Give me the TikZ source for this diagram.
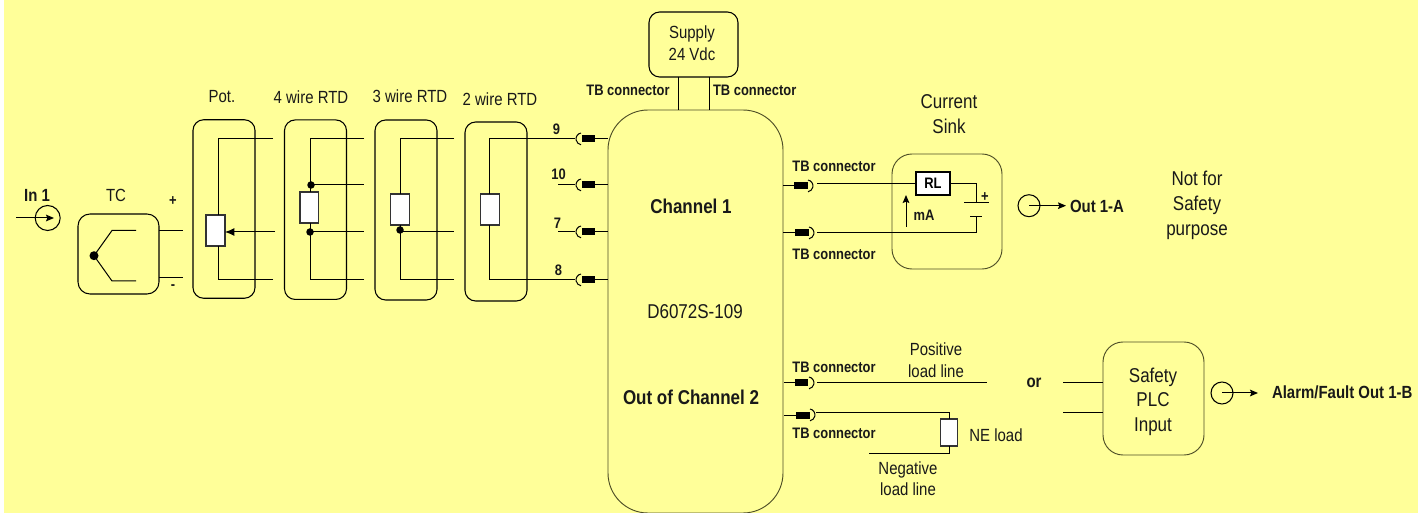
\documentclass[tikz,border=0pt]{standalone}
\usepackage{fontspec}
\setmainfont[FakeStretch=0.85]{Liberation Sans}
\usetikzlibrary{arrows.meta}
\definecolor{bgy}{HTML}{FFFF99}
\definecolor{olive}{HTML}{4D4D26}
\newcommand{\fA}{\fontsize{13.2pt}{13pt}\selectfont}
\newcommand{\fB}{\fontsize{15pt}{15pt}\selectfont}
\newcommand{\fC}{\fontsize{11.4pt}{12pt}\selectfont}
\tikzset{
  rbox/.style={draw=black,line width=0.8pt,rounded corners=#1,fill=none,inner sep=0pt,outer sep=0pt},
  thinbox/.style={draw=olive,line width=0.7pt,rounded corners=#1,fill=none,inner sep=0pt,outer sep=0pt},
  res/.style={draw=black!80,line width=1pt,fill=white,inner sep=0pt,outer sep=0pt},
  pin/.style={fill=black,draw=none,inner sep=0pt,outer sep=0pt,minimum width=13.5*0.75pt,minimum height=7*0.75pt},
  ring/.style={circle,draw=black,line width=0.8pt,fill=none,inner sep=0pt,outer sep=0pt,minimum size=#1*0.75pt},
  dotn/.style={circle,fill=black,inner sep=0pt,outer sep=0pt,minimum size=#1*0.75pt},
  wire/.style={draw=black,line width=0.75pt},
  arcw/.style={draw=black,line width=0.75pt},
  sig/.style={wire,-{Stealth[length=6pt,width=5pt,inset=1pt]}},
  lab/.style={inner sep=0pt,outer sep=0pt,align=center,font=\fA,text=black!90},
  big/.style={inner sep=0pt,outer sep=0pt,align=center,font=\fB,text=black!90},
  tb/.style={inner sep=0pt,outer sep=0pt,align=center,font=\fC\bfseries,text=black!90},
  bold/.style={inner sep=0pt,outer sep=0pt,align=center,font=\fA\bfseries,text=black!90},
  boldbig/.style={inner sep=0pt,outer sep=0pt,align=center,font=\fB\bfseries,text=black!90},
}
\begin{document}
\begin{tikzpicture}[x=0.75pt,y=-0.75pt]
\useasboundingbox (0,0) rectangle (1418,513);
\fill[white] (0,0) rectangle (1418,513);
\fill[bgy] (4,0) rectangle (1418,513);
% ---- boxes
\node[rbox=9pt,minimum width=81*0.75pt,minimum height=80*0.75pt] (tc) at (118.5,254) {};
\node[rbox=8pt,minimum width=62*0.75pt,minimum height=178.5*0.75pt] (pot) at (224,209) {};
\node[rbox=8pt,minimum width=62*0.75pt,minimum height=179.5*0.75pt] (w4) at (315.5,209.7) {};
\node[rbox=8pt,minimum width=62*0.75pt,minimum height=180*0.75pt] (w3) at (406,210) {};
\node[rbox=8pt,minimum width=62*0.75pt,minimum height=179*0.75pt] (w2) at (496,211.5) {};
\node[thinbox=30pt,minimum width=175*0.75pt,minimum height=403*0.75pt] (main) at (695.5,311.5) {};
\node[rbox=8pt,minimum width=89*0.75pt,minimum height=65*0.75pt] (sup) at (693.5,44.5) {};
\node[thinbox=15pt,minimum width=110*0.75pt,minimum height=115*0.75pt] (sink) at (947,211.5) {};
\node[thinbox=15pt,minimum width=101*0.75pt,minimum height=113*0.75pt] (plc) at (1153.5,398.5) {};
% ---- supply wires
\coordinate (supa) at (678,77); \coordinate (supb) at (709,77);
\coordinate (maina) at (678,110); \coordinate (mainb) at (709,110);
\draw[wire] (supa) -- (maina);
\draw[wire] (supb) -- (mainb);
% ---- In 1
\node[ring=25] (inring) at (47.7,218) {};
\coordinate (instart) at (16,218);
\draw[sig] (instart) -- (54,218);
% ---- TC
\node[dotn=9] (tcdot) at (94,255.7) {};
\coordinate (tcu) at (112,230.5); \coordinate (tcue) at (136,230.5);
\coordinate (tcl) at (112,281); \coordinate (tcle) at (136,281);
\draw[wire] (tcdot.center) -- (tcu) -- (tcue);
\draw[wire] (tcdot.center) -- (tcl) -- (tcle);
\coordinate (tcpa) at (159,231); \coordinate (tcpb) at (183,231);
\coordinate (tcma) at (159,278); \coordinate (tcmb) at (183,278);
\draw[wire] (tcpa) -- (tcpb);
\draw[wire] (tcma) -- (tcmb);
% ---- Pot
\node[res,minimum width=19*0.75pt,minimum height=31*0.75pt] (rpot) at (215.5,230.5) {};
\coordinate (pott) at (273,139); \coordinate (potb) at (273,280);
\coordinate (potw) at (275,232);
\draw[wire] (pott) -- (218,139) -- (218,215);
\draw[wire] (potb) -- (218,280) -- (218,246);
\draw[wire,-{Latex[length=7pt,width=6pt]}] (potw) -- (rpot.east |- potw);
% ---- 4 wire
\node[res,minimum width=18.5*0.75pt,minimum height=31*0.75pt] (r4) at (309.3,207.5) {};
\node[dotn=7.5] (d4a) at (311,185) {};
\node[dotn=7.5] (d4b) at (310,232) {};
\draw[wire] (364,139) -- (310,139) -- (310,192);
\draw[wire] (364,280) -- (310,280) -- (310,223);
\draw[wire] (d4a.center) -- (364,185);
\draw[wire] (d4b.center) -- (364,232);
% ---- 3 wire
\node[res,minimum width=19*0.75pt,minimum height=31*0.75pt] (r3) at (400,209.5) {};
\node[dotn=7.5] (d3) at (400,230) {};
\coordinate (d3w) at (400,232);
\draw[wire] (454,139) -- (400,139) -- (400,194);
\draw[wire] (454,280) -- (400,280) -- (400,225);
\draw[wire] (d3w) -- (454,232);
% ---- 2 wire
\node[res,minimum width=19*0.75pt,minimum height=31*0.75pt] (r2) at (490,209.5) {};
% ---- left terminals
\foreach \n/\yy in {p9/139,p10/185,p7/232,p8/280}{
  \node[pin] (\n) at (588.5,\yy) {};
  \draw[wire] (\n.east) -- (608,\yy);
  \draw[arcw] (581,\yy-6) arc[start angle=100,end angle=260,radius=4.5pt];
}
\coordinate (w9) at (575,139); \coordinate (w8) at (575,280);
\draw[wire] (w9) -- (489,139) -- (489,194);
\draw[wire] (w8) -- (489,280) -- (489,225);
\coordinate (w10) at (558,185); \coordinate (w7) at (558,232);
\draw[wire] (w10) -- (575,185);
\draw[wire] (w7) -- (575,232);
% ---- right terminals
\node[pin] (qa) at (801,186) {};
\node[pin] (qb) at (802,233) {};
\node[pin] (qc) at (801.5,383) {};
\node[pin,minimum width=14*0.75pt] (qd) at (803,415) {};
\draw[wire] (783,186) -- (qa.west);
\draw[wire] (783,233) -- (qb.west);
\draw[wire] (784,383) -- (qc.west);
\draw[wire] (784,415) -- (qd.west);
\draw[arcw] (808,180) arc[start angle=80,end angle=-80,radius=4.5pt];
\draw[arcw] (809,227) arc[start angle=80,end angle=-80,radius=4.5pt];
\draw[arcw] (809,377) arc[start angle=80,end angle=-80,radius=4.5pt];
\draw[arcw] (810,409) arc[start angle=80,end angle=-80,radius=4.5pt];
% ---- current sink
\node[res,draw=black,minimum width=34*0.75pt,minimum height=23*0.75pt,font=\fC\bfseries] (rl) at (933,183.5) {RL};
\coordinate (bat1) at (976,203); \coordinate (bat2) at (976,217);
\coordinate (bl1) at (964,203); \coordinate (br1) at (989,203);
\coordinate (bl2) at (970,217); \coordinate (br2) at (982,217);
\draw[wire] (817,184) -- (rl.west |- 0,184);
\draw[wire] (rl.east |- 0,184) -- (976,184) -- (bat1);
\draw[wire] (bl1) -- (br1);
\draw[wire] (bl2) -- (br2);
\draw[wire] (bat2) -- (976,233) -- (817,233);
\coordinate (maS) at (906,227); \coordinate (maE) at (906,195);
\draw[sig] (maS) -- (maE);
\node[tb] (malab) at (924,215) {mA};
\node[tb] (plus) at (985,197) {+};
% ---- Out 1-A
\node[ring=22] (ringa) at (1029,205.7) {};
\coordinate (outa) at (1066,205.7);
\draw[sig] (ringa.center) -- (outa);
\node[bold,anchor=west] (outalab) at (1070,206) {Out 1-A};
% ---- positive / negative lines
\coordinate (posend) at (987,383);
\draw[wire] (817,383) -- (posend);
\node[res,minimum width=17.5*0.75pt,minimum height=27*0.75pt] (ne) at (949,432.5) {};
\coordinate (negend) at (869,453);
\draw[wire] (816,412) -- (949,412) -- (ne.north);
\draw[wire] (ne.south) -- (949,453) -- (negend);
% ---- PLC
\coordinate (pa) at (1063,383); \coordinate (pb) at (1063,412);
\draw[wire] (pa) -- (plc.west |- pa);
\draw[wire] (pb) -- (plc.west |- pb);
\node[ring=22] (ringb) at (1222,393) {};
\coordinate (outb) at (1258,393);
\draw[sig] (ringb.center) -- (outb);
% ---- labels
\node[bold] (lin) at (37,195) {In 1};
\node[lab] (ltc) at (116,195) {TC};
\node[tb] (lp) at (173,201) {+};
\node[tb] (lm) at (173,287) {-};
\node[lab] (lpot) at (222,97) {Pot.};
\node[lab] (l4) at (311,97) {4 wire RTD};
\node[lab] (l3) at (410,96) {3 wire RTD};
\node[lab] (l2) at (500,99) {2 wire RTD};
\node[tb] (n9) at (556.5,129) {9};
\node[tb] (n10) at (558.5,174) {10};
\node[tb] (n7) at (557.5,223) {7};
\node[tb] (n8) at (558.5,270) {8};
\node[lab] (lsup) at (692,43) {Supply\\[3.5pt]24 Vdc};
\node[tb] (t1) at (628,90) {TB connector};
\node[tb] (t2) at (754.7,90) {TB connector};
\node[tb] (t3) at (834,166) {TB connector};
\node[tb] (t4) at (834,254) {TB connector};
\node[tb] (t5) at (834,367) {TB connector};
\node[tb] (t6) at (834,433) {TB connector};
\node[boldbig] (ch1) at (691,206) {Channel 1};
\node[big] (dev) at (695,312) {D6072S-109};
\node[boldbig] (ch2) at (691,397) {Out of Channel 2};
\node[big] (lcs) at (949,114.5) {Current\\[3.75pt]Sink};
\node[big] (lnf) at (1197,205.5) {Not for\\[3.75pt]Safety\\[3.75pt]purpose};
\node[lab] (lpos) at (936,360) {Positive\\[3.5pt]load line};
\node[lab] (lneg) at (908,478.5) {Negative\\[3pt]load line};
\node[lab] (lne) at (996,435) {NE load};
\node[bold] (lor) at (1034,383) {or};
\node[big] (lplc) at (1153,401.5) {Safety\\[3.4pt]PLC\\[3.4pt]Input};
\node[bold,anchor=west] (lalarm) at (1272,392) {Alarm/Fault Out 1-B};
\end{tikzpicture}
\end{document}
